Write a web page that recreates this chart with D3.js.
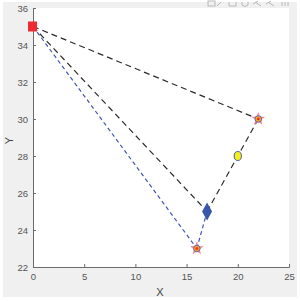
<!DOCTYPE html>
<html>
<head>
<meta charset="utf-8">
<script src="https://cdn.jsdelivr.net/npm/d3@7.9.0/dist/d3.min.js"></script>
<style>
  html, body { margin: 0; padding: 0; background: #fff; }
  svg { display: block; font-family: "Liberation Sans", Arial, sans-serif; }
</style>
</head>
<body>
<svg id="chart" width="300" height="301"></svg>
<script>
// --- data ---
const xTicks = [0, 5, 10, 15, 20, 25];
const yTicks = [22, 24, 26, 28, 30, 32, 34, 36];
const start = [0, 35];
const blackPaths = [
  [[0, 35], [22, 30]],
  [[0, 35], [17, 25]],
  [[22, 30], [20, 28], [17, 25]]
];
const bluePaths = [
  [[0, 35], [16, 23]],
  [[16, 23], [17, 25]]
];
const hub = [17, 25];
const midPoint = [20, 28];
const targets = [[22, 30], [16, 23]];

const svg = d3.select("#chart");
const W = 300, H = 301;

// figure panel
svg.append("rect").attr("x", 3).attr("y", 2).attr("width", 294).attr("height", 295).attr("fill", "#f0f0f0");

const margin = { left: 33, top: 8, right: 11, bottom: 34 };
const x = d3.scaleLinear().domain([0, 25]).range([margin.left, W - margin.right]);
const y = d3.scaleLinear().domain([22, 36]).range([H - margin.bottom, margin.top]);

svg.append("rect")
  .attr("x", x(0)).attr("y", y(36))
  .attr("width", x(25) - x(0)).attr("height", y(22) - y(36))
  .attr("fill", "#fff");

// toolbar icons (faint)
const tb = svg.append("g").attr("stroke", "#b8b8b8").attr("fill", "none").attr("stroke-width", 1);
tb.append("rect").attr("x", 208).attr("y", 1).attr("width", 7).attr("height", 5);
tb.append("path").attr("d", "M217,6 L221,2");
tb.append("path").attr("d", "M229,2 L229,6 L236,6 L236,2");
tb.append("path").attr("d", "M242,2 L242,5 Q245,8 248,5 L248,2");
tb.append("path").attr("d", "M255,2 L261,6 M258,1 L253,4");
tb.append("path").attr("d", "M268,2 L274,6 M271,1 L266,4");
tb.append("path").attr("d", "M282,2 L282,6 M285,2 L285,6 M288,2 L288,6");

// axes
const axisColor = "#6b6b6b";
const gx = svg.append("g")
  .attr("transform", `translate(0,${y(22)})`)
  .call(d3.axisBottom(x).tickValues(xTicks).tickSize(-3).tickPadding(6));
const gy = svg.append("g")
  .attr("transform", `translate(${x(0)},0)`)
  .call(d3.axisLeft(y).tickValues(yTicks).tickSize(-3).tickPadding(5));
[gx, gy].forEach(g => {
  g.select(".domain").attr("stroke", axisColor);
  g.selectAll(".tick line").attr("stroke", axisColor);
  g.selectAll(".tick text").attr("fill", "#555").attr("font-size", 9.5);
});

svg.append("text").attr("x", 160).attr("y", 296).attr("text-anchor", "middle")
  .attr("fill", "#444").attr("font-size", 11).text("X");
svg.append("text").attr("transform", `translate(13,${(y(22) + y(36)) / 2 + 3}) rotate(-90)`)
  .attr("text-anchor", "middle").attr("fill", "#444").attr("font-size", 11).text("Y");

// lines
const line = d3.line().x(d => x(d[0])).y(d => y(d[1]));
svg.selectAll(".blk").data(blackPaths).join("path")
  .attr("d", line).attr("fill", "none").attr("stroke", "#2b2b2b")
  .attr("stroke-width", 1.2).attr("stroke-dasharray", "6,4");
svg.selectAll(".blu").data(bluePaths).join("path")
  .attr("d", line).attr("fill", "none").attr("stroke", "#4257b0")
  .attr("stroke-width", 1.2).attr("stroke-dasharray", "4,3");

// start square
svg.append("rect")
  .attr("x", x(start[0]) - 5).attr("y", y(start[1]) - 5)
  .attr("width", 9).attr("height", 10).attr("fill", "#ee2a33");

// hub diamond
svg.append("path")
  .attr("d", `M${x(hub[0])},${y(hub[1]) - 9} L${x(hub[0]) + 5},${y(hub[1])} L${x(hub[0])},${y(hub[1]) + 9} L${x(hub[0]) - 5},${y(hub[1])} Z`)
  .attr("fill", "#3a56a8");

// yellow mid point
svg.append("ellipse")
  .attr("cx", x(midPoint[0])).attr("cy", y(midPoint[1]))
  .attr("rx", 3.6).attr("ry", 4.5)
  .attr("fill", "#f5f01a").attr("stroke", "#4a5bb0").attr("stroke-width", 1);

// target markers
const tg = svg.selectAll(".tgt").data(targets).join("g")
  .attr("transform", d => `translate(${x(d[0])},${y(d[1])})`);
tg.append("path")
  .attr("d", d3.symbol(d3.symbolStar, 45))
  .attr("fill", "#f7a0b0").attr("stroke", "#f06080").attr("stroke-width", 0.5);
tg.append("circle").attr("r", 3.3).attr("fill", "#f5a21a").attr("stroke", "#6a62b8").attr("stroke-width", 1);
tg.append("circle").attr("r", 1.3).attr("fill", "#e8262e");
</script>
</body>
</html>
